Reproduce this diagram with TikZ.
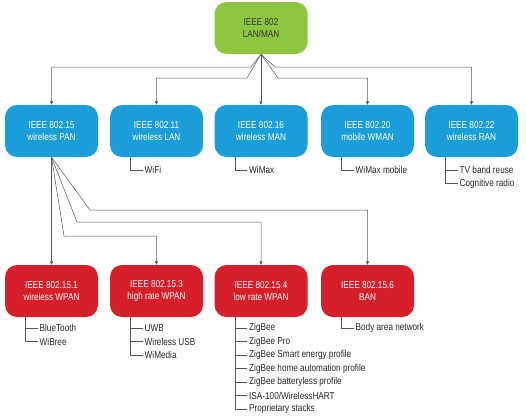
\documentclass[tikz,border=0pt]{standalone}
\usepackage{fontspec}
\setmainfont{Liberation Sans}[FakeStretch=0.82]
\usetikzlibrary{arrows.meta}
\definecolor{lgreen}{RGB}{141,198,63}
\definecolor{lblue}{RGB}{27,157,217}
\definecolor{lred}{RGB}{215,31,43}
\definecolor{wiregray}{RGB}{85,85,85}
\tikzset{
	std/.style={rounded corners=12pt, minimum width=93pt, minimum height=52pt, inner sep=0pt, align=center, font=\fontsize{10}{12}\selectfont, text=white},
	wire/.style={draw=wiregray, line width=0.5pt},
	arr/.style={wire, -{Triangle[length=3.5pt,width=3pt]}},
	item/.style={anchor=west, inner sep=2pt, font=\fontsize{10}{12}\selectfont, text=black!85},
}
\begin{document}
\begin{tikzpicture}[x=1pt,y=-1pt]
			\useasboundingbox (0,0) rectangle (526,418);
			% Boxes:
			\node[std, fill=lgreen, text=black!80] (Box0) at (261,28) {IEEE 802\\LAN/MAN};
			\node[std, fill=lblue] (Box1) at (51.5,131) {IEEE 802.15\\wireless PAN};
			\node[std, fill=lblue] (Box2) at (156.5,131) {IEEE 802.11\\wireless LAN};
			\node[std, fill=lblue] (Box3) at (261,131) {IEEE 802.16\\wireless MAN};
			\node[std, fill=lblue] (Box4) at (367.5,131) {IEEE 802.20\\mobile WMAN};
			\node[std, fill=lblue] (Box5) at (471.5,131) {IEEE 802.22\\wireless RAN};
			\node[std, fill=lred] (Box6) at (51.5,291) {IEEE 802.15.1\\wireless WPAN};
			\node[std, fill=lred] (Box7) at (156.5,291) {IEEE 802.15.3\\high rate WPAN};
			\node[std, fill=lred] (Box8) at (261,291) {IEEE 802.15.4\\low rate WPAN};
			\node[std, fill=lred] (Box9) at (367.5,291) {IEEE 802.15.6\\BAN};
			% Fan wires:
			\coordinate (Bend1) at (251,67);
			\coordinate (Bend2) at (247,78);
			\coordinate (Bend4) at (278,78);
			\coordinate (Bend5) at (275,67);
			\draw[arr] (Box0.south) -- (Bend1) -| (Box1.north);
			\draw[arr] (Box0.south) -- (Bend2) -| (Box2.north);
			\draw[arr] (Box0.south) -- (Box3.north);
			\draw[arr] (Box0.south) -- (Bend4) -| (Box4.north);
			\draw[arr] (Box0.south) -- (Bend5) -| (Box5.north);
			\coordinate (Bend7) at (64,236);
			\coordinate (Bend8) at (77,222);
			\coordinate (Bend9) at (90,210);
			\draw[arr] (Box1.south) -- (Box6.north);
			\draw[arr] (Box1.south) -- (Bend7) -| (Box7.north);
			\draw[arr] (Box1.south) -- (Bend8) -| (Box8.north);
			\draw[arr] (Box1.south) -- (Bend9) -| (Box9.north);
			% Lists:
			\node[item] (WiFi) at (142.5,170) {WiFi};
			\node[item] (WiMax) at (247,170) {WiMax};
			\node[item] (WiMaxM) at (353.5,170) {WiMax mobile};
			\node[item] (TVband) at (457.5,170) {TV band reuse};
			\node[item] (CogRadio) at (457.5,183.5) {Cognitive radio};
			\draw[wire] ([xshift=-26pt]Box2.south) |- (WiFi.west);
			\draw[wire] ([xshift=-26pt]Box3.south) |- (WiMax.west);
			\draw[wire] ([xshift=-26pt]Box4.south) |- (WiMaxM.west);
			\draw[wire] ([xshift=-26pt]Box5.south) |- (TVband.west);
			\draw[wire] ([xshift=-26pt]Box5.south) |- (CogRadio.west);
			\node[item] (BlueTooth) at (37.5,328) {BlueTooth};
			\node[item] (WiBree) at (37.5,341.5) {WiBree};
			\draw[wire] ([xshift=-26pt]Box6.south) |- (BlueTooth.west);
			\draw[wire] ([xshift=-26pt]Box6.south) |- (WiBree.west);
			\node[item] (UWB) at (142.5,328) {UWB};
			\node[item] (WUSB) at (142.5,341.5) {Wireless USB};
			\node[item] (WiMedia) at (142.5,355) {WiMedia};
			\draw[wire] ([xshift=-26pt]Box7.south) |- (UWB.west);
			\draw[wire] ([xshift=-26pt]Box7.south) |- (WUSB.west);
			\draw[wire] ([xshift=-26pt]Box7.south) |- (WiMedia.west);
			\node[item] (ZigBee) at (247,328) {ZigBee};
			\node[item] (ZigBeePro) at (247,341.5) {ZigBee Pro};
			\node[item] (ZigBeeSE) at (247,355) {ZigBee Smart energy profile};
			\node[item] (ZigBeeHA) at (247,368.5) {ZigBee home automation profile};
			\node[item] (ZigBeeBL) at (247,382) {ZigBee batteryless profile};
			\node[item] (ISA) at (247,395.5) {ISA-100/WirelessHART};
			\node[item] (Prop) at (247,409) {Proprietary stacks};
			\draw[wire] ([xshift=-26pt]Box8.south) |- (ZigBee.west);
			\draw[wire] ([xshift=-26pt]Box8.south) |- (ZigBeePro.west);
			\draw[wire] ([xshift=-26pt]Box8.south) |- (ZigBeeSE.west);
			\draw[wire] ([xshift=-26pt]Box8.south) |- (ZigBeeHA.west);
			\draw[wire] ([xshift=-26pt]Box8.south) |- (ZigBeeBL.west);
			\draw[wire] ([xshift=-26pt]Box8.south) |- (ISA.west);
			\draw[wire] ([xshift=-26pt]Box8.south) |- (Prop.west);
			\node[item] (BodyArea) at (353.5,328) {Body area network};
			\draw[wire] ([xshift=-26pt]Box9.south) |- (BodyArea.west);
\end{tikzpicture}
\end{document}
